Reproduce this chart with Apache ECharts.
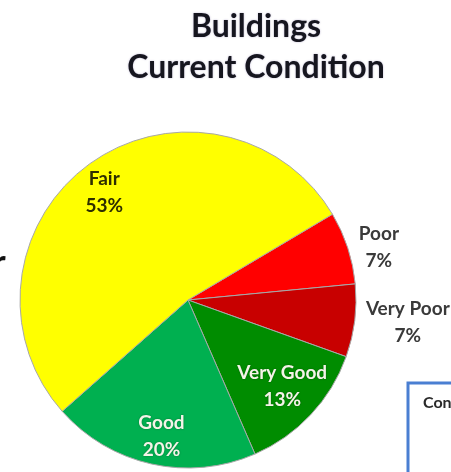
<!DOCTYPE html>
<html>
<head>
<meta charset="utf-8">
<script src="https://cdn.jsdelivr.net/npm/echarts@6/dist/echarts.min.js"></script>
<style>
  html, body { margin: 0; padding: 0; background: #fff; }
  #chart { width: 451px; height: 472px; }
</style>
</head>
<body>
<div id="chart"></div>
<script>
// Building condition shares (percent), listed clockwise from the Poor slice
const categories = ['Poor', 'Very Poor', 'Very Good', 'Good', 'Fair'];
const shares = [7, 7, 13, 20, 53];
const sliceColors = ['#ff0000', '#c80000', '#008c00', '#00b050', '#ffff00'];
const labelColors = ['#3a3a3a', '#3a3a3a', '#f4f4e8', '#f4f4e8', '#2e2e00'];

const CENTER = [188, 300];
const RADIUS = 168;
const START = 30.7;
const FONT = 'Lato, "Open Sans", sans-serif';

// Each label sits on its own invisible ring: mid radius and a small angular nudge
const labelPlacement = {
  'Fair':      { r: 133, turn: 1.9 },
  'Good':      { r: 136, turn: 1.5 },
  'Very Good': { r: 125, turn: 0.5 },
  'Poor':      { r: 195, turn: -2.7 },
  'Very Poor': { r: 218, turn: 1.2 }
};

const mainData = categories.map((name, i) => ({
  name, value: shares[i], itemStyle: { color: sliceColors[i] }
}));

function labelRing(target) {
  const p = labelPlacement[target];
  return {
    type: 'pie',
    center: CENTER,
    radius: [p.r - 12, p.r + 12],
    startAngle: START + p.turn,
    silent: true,
    animation: false,
    itemStyle: { color: 'rgba(0,0,0,0)', borderWidth: 0 },
    labelLine: { show: false },
    data: categories.map((name, i) => ({
      name,
      value: shares[i],
      label: {
        show: name === target,
        position: 'inside',
        color: labelColors[i],
        fontFamily: FONT,
        fontWeight: 'bold',
        fontSize: 19,
        lineHeight: 27,
        textShadowColor: (i === 2 || i === 3) ? 'rgba(0,0,0,0.35)' : 'transparent',
        textShadowBlur: 2,
        formatter: q => q.name + '\n' + Math.round(q.percent) + '%'
      }
    }))
  };
}

const chart = echarts.init(document.getElementById('chart'), null, { renderer: 'canvas' });
chart.setOption({
  backgroundColor: '#ffffff',
  title: {
    text: 'Buildings\nCurrent Condition',
    left: 256,
    top: 6,
    padding: 0,
    textAlign: 'center',
    textStyle: {
      fontFamily: FONT,
      fontWeight: 'bold',
      fontSize: 32,
      lineHeight: 41,
      color: '#16161f',
      textShadowColor: 'rgba(60,40,120,0.35)',
      textShadowBlur: 2
    }
  },
  graphic: [
    {
      type: 'text',
      left: -7,
      top: 246,
      style: { text: 'r', font: 'bold 34px ' + FONT, fill: '#111' }
    },
    {
      type: 'rect',
      shape: { x: 408, y: 383, width: 120, height: 140 },
      style: { fill: '#fff', stroke: '#4a7fd2', lineWidth: 3 }
    },
    {
      type: 'text',
      x: 423,
      y: 395,
      style: { text: 'Con', font: 'bold 16px ' + FONT, fill: '#2a2a2a' }
    }
  ],
  series: [
    {
      type: 'pie',
      center: CENTER,
      radius: RADIUS,
      startAngle: START,
      animation: false,
      label: { show: false },
      labelLine: { show: false },
      itemStyle: { borderColor: '#a8a8a8', borderWidth: 1 },
      data: mainData
    }
  ].concat(categories.map(labelRing))
});
</script>
</body>
</html>
